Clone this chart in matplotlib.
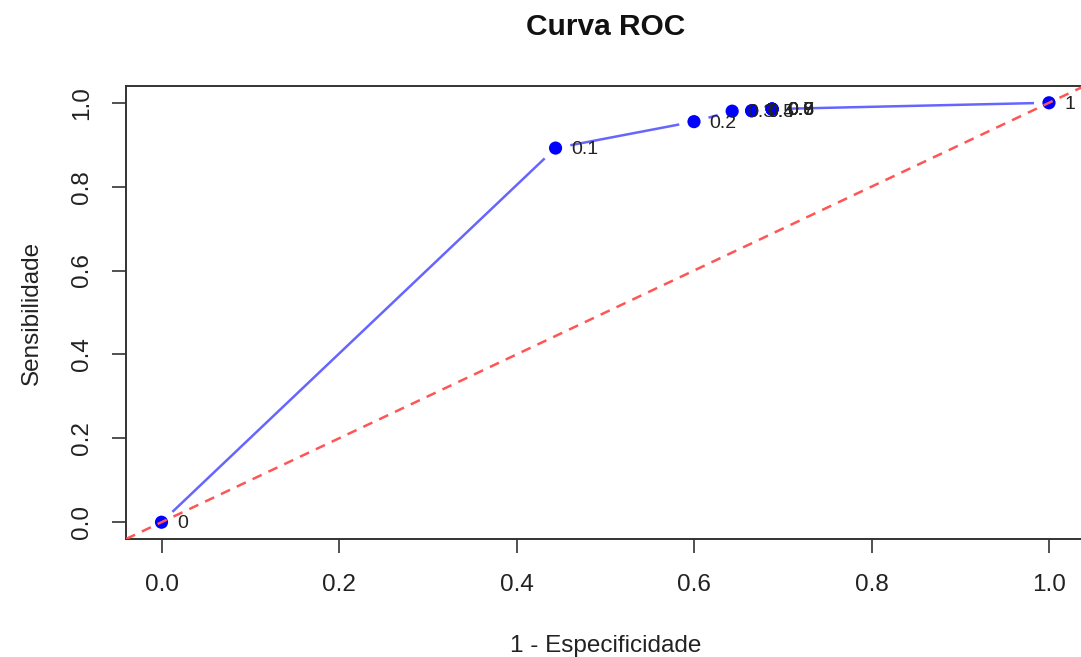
import numpy as np
import matplotlib
matplotlib.use("Agg")
import matplotlib.pyplot as plt

# ROC points (1 - specificity, sensitivity) per threshold
fpr = [0.0, 0.444, 0.600, 0.643, 0.665, 0.665, 0.688, 0.688, 0.688, 0.688, 1.0]
tpr = [0.0, 0.892, 0.955, 0.980, 0.981, 0.981, 0.985, 0.985, 0.985, 0.985, 1.0]
thr_labels = ["0", "0.1", "0.2", "0.3", "0.4", "0.5", "0.6", "0.7", "0.8", "0.9", "1"]
ticks = [0.0, 0.2, 0.4, 0.6, 0.8, 1.0]

plt.rcParams["font.family"] = ["Liberation Sans", "DejaVu Sans"]

W, H = 1081, 657
fig = plt.figure(figsize=(W / 100, H / 100), dpi=100)
ax = fig.add_axes([126 / W, 1 - 539 / H, (1084.5 - 126) / W, (539 - 86) / H])
ax.set_xlim(-0.04, 1.04)
ax.set_ylim(-0.04, 1.04)
fig.canvas.draw()

# R type="b": line segments stop short of each point
gap = 15
to_px = ax.transData
to_data = ax.transData.inverted()
for i in range(len(fpr) - 1):
    p0 = np.array(to_px.transform((fpr[i], tpr[i])))
    p1 = np.array(to_px.transform((fpr[i + 1], tpr[i + 1])))
    d = p1 - p0
    n = np.hypot(*d)
    if n <= 2 * gap:
        continue
    u = d / n
    a = to_data.transform(p0 + u * gap)
    b = to_data.transform(p1 - u * gap)
    ax.plot([a[0], b[0]], [a[1], b[1]], color="#6666ff", lw=1.8, solid_capstyle="butt", zorder=2)

ax.scatter(fpr, tpr, s=90, color="#0000ff", edgecolors="none", zorder=3)
for x, y, lab in zip(fpr, tpr, thr_labels):
    ax.annotate(lab, (x, y), xytext=(11, -1), textcoords="offset points",
                ha="left", va="center", fontsize=14, color="#222222", zorder=4)

ax.axline((0, 0), slope=1, color="#ff5555", lw=1.8, ls=(0, (4, 3)), zorder=5)

ax.set_xticks(ticks)
ax.set_yticks(ticks)
ax.set_xticklabels([f"{t:.1f}" for t in ticks], fontsize=17.5, color="#222222")
ax.set_yticklabels([f"{t:.1f}" for t in ticks], fontsize=17.5, color="#222222",
                   rotation=90, va="center")
ax.tick_params(axis="both", direction="out", length=10, width=1.2, color="#333333")
ax.tick_params(axis="x", pad=15)
ax.tick_params(axis="y", pad=14)
for sp in ax.spines.values():
    sp.set_linewidth(1.4)
    sp.set_color("#333333")

ax.set_xlabel("1 - Especificidade", fontsize=17.5, color="#222222", labelpad=28)
ax.set_ylabel("Sensibilidade", fontsize=17.5, color="#222222", labelpad=20)
fig.text(606 / W, 1 - 27 / H, "Curva ROC", ha="center", va="center",
         fontsize=21.5, fontweight="bold", color="#111111")

fig.savefig("out.png", dpi=100)
